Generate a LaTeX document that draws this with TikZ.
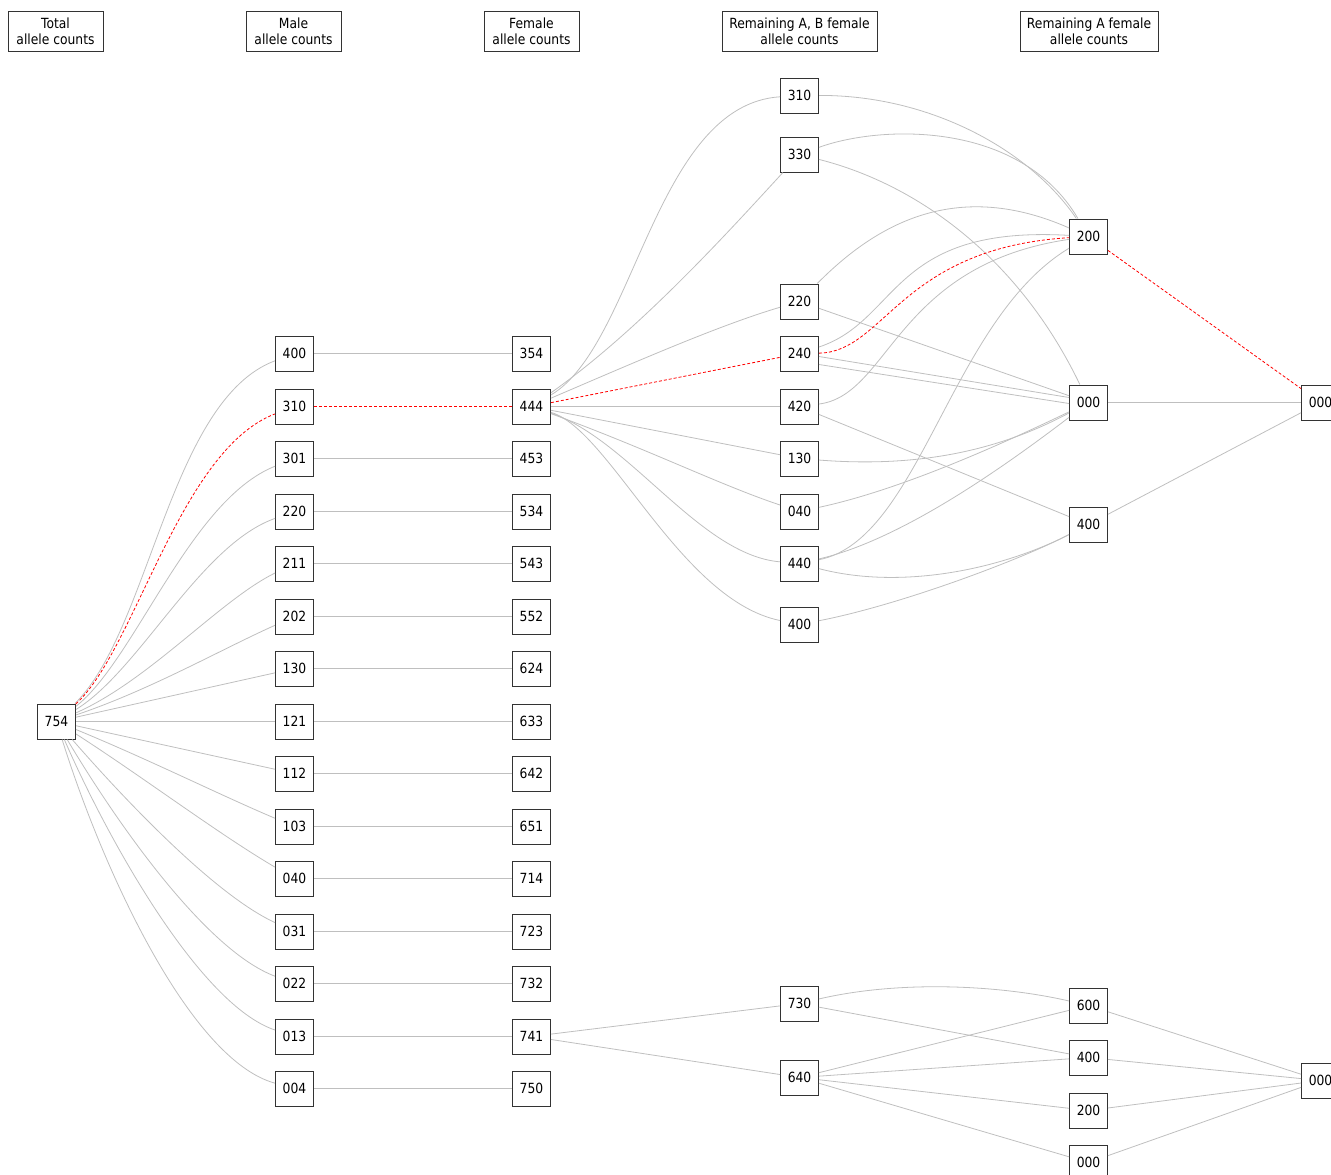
\documentclass[tikz,border=0pt]{standalone}
\usepackage{fontspec}
\setmainfont{DejaVu Sans}[FakeStretch=0.88]
\begin{document}
\begin{tikzpicture}[x=1pt,y=-1pt,
  box/.style={draw=black!80, line width=1pt, minimum width=38pt, minimum height=35pt, inner sep=0pt, fill=white, font=\fontsize{14}{16}\selectfont},
  hdr/.style={draw=black!80, line width=1pt, minimum height=40pt, inner sep=0pt, align=center, font=\fontsize{14}{16}\selectfont},
  e/.style={draw=black!25, line width=0.8pt},
  hl/.style={draw=red, line width=0.8pt, dash pattern=on 3pt off 2pt}]
\useasboundingbox (0,0) rectangle (1331,1175);
% headers
\node[hdr, minimum width=95pt] (h1) at (55.5,31) {Total\\allele counts};
\node[hdr, minimum width=95pt] (h2) at (293.5,31) {Male\\allele counts};
\node[hdr, minimum width=95pt] (h3) at (531.5,31) {Female\\allele counts};
\node[hdr, minimum width=155pt] (h4) at (799.5,31) {Remaining A, B female\\allele counts};
\node[hdr, minimum width=138pt] (h5) at (1089,31) {Remaining A female\\allele counts};
% nodes
\node[box] (t754) at (56.5,721.5) {754};
\foreach \n/\y in {400/353.5,310/406.5,301/458.5,220/511.5,211/563.5,202/616.5,130/668.5,121/721.5,112/773.5,103/826.5,040/878.5,031/931.5,022/983.5,013/1036.5,004/1088.5}
  \node[box] (m\n) at (294.5,\y) {\n};
\foreach \n/\y in {354/353.5,444/406.5,453/458.5,534/511.5,543/563.5,552/616.5,624/668.5,633/721.5,642/773.5,651/826.5,714/878.5,723/931.5,732/983.5,741/1036.5,750/1088.5}
  \node[box] (f\n) at (531.5,\y) {\n};
\foreach \n/\y in {310/95.5,330/154.5,220/301.5,240/353.5,420/406.5,130/458.5,040/511.5,440/563.5,400/624.5,730/1003.5,640/1077.5}
  \node[box] (a\n) at (799.5,\y) {\n};
\node[box] (b200) at (1088.5,236.5) {200};
\node[box] (b000) at (1088.5,402.5) {000};
\node[box] (b400) at (1088.5,524.5) {400};
\node[box] (b600x) at (1088.5,1005.5) {600};
\node[box] (b400x) at (1088.5,1057.5) {400};
\node[box] (b200x) at (1088.5,1110.5) {200};
\node[box] (b000x) at (1088.5,1162.5) {000};
\node[box] (c000) at (1320.5,402.5) {000};
\node[box] (c000x) at (1320.5,1080.5) {000};
% total -> male
\draw[e] (t754) .. controls (150,630) and (170,400) .. (m400);
\draw[hl] (t754) .. controls (135,650) and (180,450) .. (m310);
\draw[e] (t754) .. controls (135,660) and (190,500) .. (m301);
\draw[e] (t754) .. controls (140,670) and (200,545) .. (m220);
\draw[e] (t754) .. controls (150,680) and (220,600) .. (m211);
\draw[e] (t754) .. controls (150,690) and (220,650) .. (m202);
\draw[e] (t754) -- (m130);
\draw[e] (t754) -- (m121);
\draw[e] (t754) -- (m112);
\draw[e] (t754) .. controls (150,760) and (220,795) .. (m103);
\draw[e] (t754) .. controls (140,775) and (220,835) .. (m040);
\draw[e] (t754) .. controls (125,800) and (215,895) .. (m031);
\draw[e] (t754) .. controls (115,820) and (205,950) .. (m022);
\draw[e] (t754) .. controls (108,840) and (200,1005) .. (m013);
\draw[e] (t754) .. controls (103,870) and (190,1060) .. (m004);
% male -> female
\foreach \a/\b in {400/354,301/453,220/534,211/543,202/552,130/624,121/633,112/642,103/651,040/714,031/723,022/732,013/741,004/750}
  \draw[e] (m\a) -- (f\b);
\draw[hl] (m310) -- (f444);
% female -> remaining A,B
\draw[e] (f444) .. controls (635,345) and (655,105) .. (a310);
\draw[e] (f444) .. controls (640,330) and (730,230) .. (a330);
\draw[e] (f444) .. controls (640,360) and (720,325) .. (a220);
\draw[hl] (f444) -- (a240);
\draw[e] (f444) -- (a420);
\draw[e] (f444) -- (a130);
\draw[e] (f444) .. controls (650,450) and (720,485) .. (a040);
\draw[e] (f444) .. controls (630,440) and (700,555) .. (a440);
\draw[e] (f444) .. controls (610,430) and (680,600) .. (a400);
\draw[e] (f741) -- (a730);
\draw[e] (f741) -- (a640);
% remaining A,B -> remaining A
\draw[e] (a310) .. controls (930,95) and (1030,150) .. (b200);
\draw[e] (a330) .. controls (880,125) and (1020,120) .. (b200);
\draw[e] (a330) .. controls (920,185) and (1020,260) .. (b000);
\draw[e] (a220) .. controls (880,220) and (960,180) .. (b200);
\draw[e] (a220) -- (b000);
\draw[e] (a240) .. controls (900,320) and (890,225) .. (b200);
\draw[hl] (a240) .. controls (885,352) and (900,248) .. (b200);
\draw[e] (a420) .. controls (890,395) and (895,265) .. (b200);
\draw[e] ([yshift=-3pt]a240.east) -- ([yshift=5pt]b000.west);
\draw[e] ([yshift=-11pt]a240.east) -- ([yshift=-1pt]b000.west);
\draw[e] (a420) -- (b400);
\draw[e] (a130) .. controls (920,468) and (1000,450) .. (b000);
\draw[e] (a040) .. controls (900,490) and (1000,445) .. (b000);
\draw[e] (a440) .. controls (920,540) and (950,320) .. (b200);
\draw[e] (a440) .. controls (900,540) and (1000,470) .. (b000);
\draw[e] (a440) .. controls (900,590) and (1000,570) .. (b400);
\draw[e] (a400) .. controls (900,605) and (1020,560) .. (b400);
\draw[e] (a730) .. controls (900,980) and (1000,985) .. (b600x);
\draw[e] (a730) -- (b400x);
\draw[e] (a640) -- (b600x);
\draw[e] (a640) -- (b400x);
\draw[e] (a640) -- (b200x);
\draw[e] (a640) -- (b000x);
% remaining A -> final
\draw[hl] (b200) -- (c000);
\draw[e] (b000) -- (c000);
\draw[e] (b400) -- (c000);
\draw[e] (b600x) -- (c000x);
\draw[e] (b400x) -- (c000x);
\draw[e] (b200x) -- (c000x);
\draw[e] (b000x) -- (c000x);
\end{tikzpicture}
\end{document}
